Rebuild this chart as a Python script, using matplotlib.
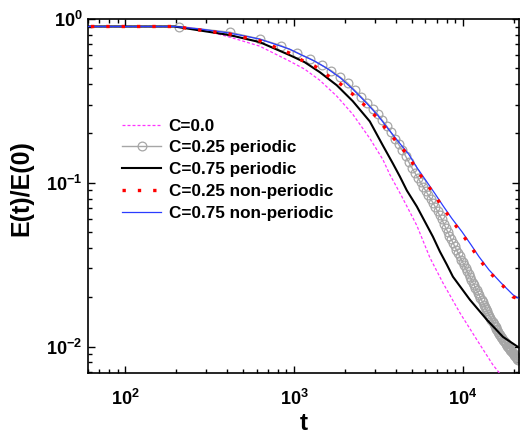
import numpy as np
import matplotlib
matplotlib.use("Agg")
from matplotlib import pyplot as plt
from matplotlib.ticker import FixedLocator, FuncFormatter, LogLocator, NullFormatter

plt.rcParams['font.family'] = ['Liberation Sans', 'DejaVu Sans']
plt.rcParams['font.weight'] = 'bold'
plt.rcParams['mathtext.fontset'] = 'custom'
plt.rcParams['mathtext.rm'] = 'Liberation Sans:bold'
plt.rcParams['mathtext.bf'] = 'Liberation Sans:bold'
plt.rcParams['mathtext.it'] = 'Liberation Sans:bold'

# C=0.0 (magenta dashed)
t_c00 = [1, 195, 275, 414, 624, 940, 1154, 1417, 1788, 2225, 2806, 3351, 3687,
         4345, 5333, 6372, 7608, 9598, 12113, 15067, 17757]
e_c00 = [0.9, 0.9, 0.869, 0.776, 0.683, 0.553, 0.494, 0.423, 0.338, 0.262, 0.1867,
         0.1389, 0.1124, 0.0824, 0.0548, 0.0349, 0.0245, 0.01606, 0.01097, 0.00772, 0.00625]

# C=0.25 periodic (grey open circles, one per saved time step)
grey_step = 208
t_c25p = [1] + [grey_step * k for k in range(1, 103)]
e_c25p = [0.9,
          0.900, 0.830, 0.756, 0.689, 0.622, 0.571, 0.522, 0.483, 0.442, 0.405,
          0.3666, 0.335, 0.3077, 0.2833, 0.2622, 0.2404, 0.2217, 0.2029, 0.1859, 0.1713,
          0.1583, 0.1453, 0.1336, 0.1233, 0.1147, 0.1072, 0.1004, 0.0943, 0.0890, 0.0841,
          0.0795, 0.0753, 0.0710, 0.0669, 0.0632, 0.0599, 0.0564, 0.0532, 0.0503, 0.0476,
          0.0451, 0.0430, 0.0409, 0.0390, 0.0372, 0.0356, 0.0340, 0.0326, 0.0313, 0.0300,
          0.0288, 0.0276, 0.0265, 0.0256, 0.0246, 0.0237, 0.0229, 0.0221, 0.0213, 0.0206,
          0.0199, 0.0192, 0.0186, 0.0180, 0.0174, 0.0169, 0.0164, 0.0159, 0.0154, 0.01496,
          0.01452, 0.01411, 0.01377, 0.01344, 0.01312, 0.01282, 0.01253, 0.01225, 0.01198, 0.01171,
          0.01146, 0.01121, 0.01096, 0.01080, 0.01063, 0.01046, 0.01030, 0.01014, 0.00999, 0.00985,
          0.00970, 0.00956, 0.00942, 0.00929, 0.00916, 0.00903, 0.00889, 0.00876, 0.00864, 0.00851,
          0.00839, 0.00827]

# C=0.75 periodic (black)
t_c75p = [1, 195, 414, 624, 940, 1154, 1417, 1788, 2225, 2806, 3351, 3843, 4228,
          4653, 5333, 6637, 7305, 8035, 8724, 11003, 13882, 17278, 21210]
e_c75p = [0.9, 0.9, 0.798, 0.723, 0.602, 0.545, 0.474, 0.394, 0.315, 0.237, 0.1692,
          0.1313, 0.1093, 0.0897, 0.0716, 0.0469, 0.038, 0.0316, 0.0267, 0.0193,
          0.01455, 0.01145, 0.00994]

# C=0.25 non-periodic (red dotted)
t_c25n = [1, 195, 414, 624, 940, 1108, 1323, 1559, 1888, 2225, 2657, 3129, 3588,
          4171, 4781, 5333, 6031, 6820, 7608, 8604, 9864, 11155, 12445, 14264,
          16807, 19804, 21210]
e_c25n = [0.9, 0.9, 0.809, 0.736, 0.619, 0.561, 0.516, 0.456, 0.400, 0.347, 0.293,
          0.2475, 0.206, 0.1716, 0.145, 0.119, 0.1004, 0.0836, 0.0706, 0.0588, 0.0489,
          0.0407, 0.0344, 0.0286, 0.0242, 0.0201, 0.0196]

# C=0.75 non-periodic (blue)
t_c75n = [1, 195, 275, 414, 624, 940, 1108, 1323, 1559, 1888, 2225, 2657, 3129,
          3588, 4228, 4781, 5333, 6031, 6820, 7608, 8604, 9864, 11155, 12445, 14264,
          16807, 19804, 21210]
e_c75n = [0.9, 0.9, 0.869, 0.821, 0.754, 0.655, 0.602, 0.553, 0.501, 0.435, 0.373,
          0.310, 0.258, 0.215, 0.174, 0.149, 0.124, 0.1033, 0.086, 0.0726, 0.0605,
          0.0503, 0.0419, 0.0354, 0.0294, 0.0245, 0.0207, 0.0198]

labels = ['C=0.0', 'C=0.25 periodic', 'C=0.75 periodic',
          'C=0.25 non-periodic', 'C=0.75 non-periodic']

fig = plt.figure(figsize=(5.25, 4.36), dpi=100)
ax = fig.add_axes([0.1676, 0.1456, 0.8210, 0.8108])

h_grey, = ax.plot(t_c25p, e_c25p, color='#a6a6a6', lw=1.0, marker='o', ms=6.3,
                  mfc='none', mec='#a6a6a6', mew=0.9, label=labels[1], zorder=2)
h_pink, = ax.plot(t_c00, e_c00, color='#ff33ff', lw=0.9, dashes=(2.4, 1.6),
                  label=labels[0], zorder=3)
h_black, = ax.plot(t_c75p, e_c75p, color='black', lw=1.5, label=labels[2], zorder=4)
h_blue, = ax.plot(t_c75n, e_c75n, color='#2a3cff', lw=0.9, label=labels[4], zorder=5)
h_red, = ax.plot(t_c25n, e_c25n, color='red', lw=2.4, dashes=(1, 3.6),
                 label=labels[3], zorder=6)

ax.set_xscale('log')
ax.set_yscale('log')
ax.set_xlim(60, 21500)
ax.set_ylim(0.00694, 1)

def pow_fmt(v, pos):
    return r'$\mathbf{10^{%d}}$' % int(round(np.log10(v)))

ax.xaxis.set_major_locator(FixedLocator([1e2, 1e3, 1e4]))
ax.yaxis.set_major_locator(FixedLocator([1e-2, 1e-1, 1e0]))
ax.xaxis.set_major_formatter(FuncFormatter(pow_fmt))
ax.yaxis.set_major_formatter(FuncFormatter(pow_fmt))
ax.xaxis.set_minor_locator(LogLocator(base=10, subs=np.arange(2, 10)))
ax.yaxis.set_minor_locator(LogLocator(base=10, subs=np.arange(2, 10)))
ax.xaxis.set_minor_formatter(NullFormatter())
ax.yaxis.set_minor_formatter(NullFormatter())

ax.tick_params(which='both', direction='in', top=True, right=True, width=1.0)
ax.tick_params(which='major', length=5, labelsize=13)
ax.tick_params(which='minor', length=3)
ax.tick_params(axis='x', which='major', pad=12)
ax.tick_params(axis='y', which='major', pad=4)
for sp in ax.spines.values():
    sp.set_linewidth(1.2)

ax.set_xlabel('t', fontsize=17.5, fontweight='bold')
ax.xaxis.label.set_va('baseline')
ax.xaxis.set_label_coords(0.5, -0.1627)
ax.set_ylabel('E(t)/E(0)', fontsize=18, fontweight='bold')
ax.yaxis.set_label_coords(-0.1276, 0.522)

ax.legend([h_pink, h_grey, h_black, h_red, h_blue], labels,
          loc='upper left', bbox_to_anchor=(0.079, 0.7185), frameon=False,
          prop={'size': 12.3, 'weight': 'bold'}, handlelength=2.3,
          handletextpad=0.42, labelspacing=0.4, borderpad=0, borderaxespad=0,
          numpoints=1)

fig.savefig('out.png', dpi=100)
